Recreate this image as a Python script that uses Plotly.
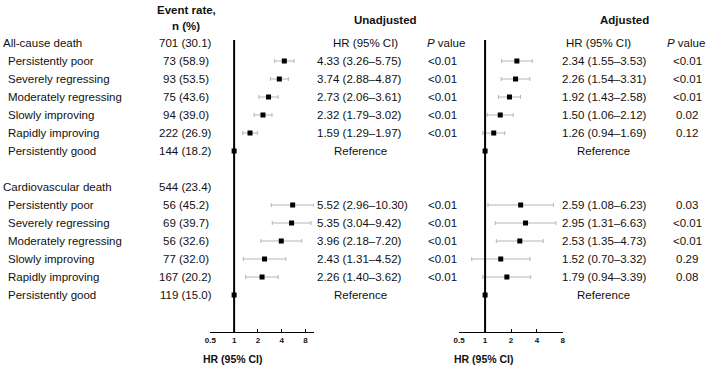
import plotly.graph_objects as go
import math

# ---------------- data ----------------
sections = ["All-cause death", "Cardiovascular death"]
section_events = ["701 (30.1)", "544 (23.4)"]
groups = ["Persistently poor", "Severely regressing", "Moderately regressing",
          "Slowly improving", "Rapidly improving", "Persistently good"]

all_n = [73, 93, 75, 94, 222, 144]
all_pct = [58.9, 53.5, 43.6, 39.0, 26.9, 18.2]
cv_n = [56, 69, 56, 77, 167, 119]
cv_pct = [45.2, 39.7, 32.6, 32.0, 20.2, 15.0]

# Unadjusted, all-cause
ua_hr = [4.33, 3.74, 2.73, 2.32, 1.59]
ua_lo = [3.26, 2.88, 2.06, 1.79, 1.29]
ua_hi = [5.75, 4.87, 3.61, 3.02, 1.97]
ua_p = ["<0.01", "<0.01", "<0.01", "<0.01", "<0.01"]
# Adjusted, all-cause
aa_hr = [2.34, 2.26, 1.92, 1.50, 1.26]
aa_lo = [1.55, 1.54, 1.43, 1.06, 0.94]
aa_hi = [3.53, 3.31, 2.58, 2.12, 1.69]
aa_p = ["<0.01", "<0.01", "<0.01", "0.02", "0.12"]
# Unadjusted, cardiovascular
uc_hr = [5.52, 5.35, 3.96, 2.43, 2.26]
uc_lo = [2.96, 3.04, 2.18, 1.31, 1.40]
uc_hi = [10.30, 9.42, 7.20, 4.52, 3.62]
uc_p = ["<0.01", "<0.01", "<0.01", "<0.01", "<0.01"]
# Adjusted, cardiovascular
ac_hr = [2.59, 2.95, 2.53, 1.52, 1.79]
ac_lo = [1.08, 1.31, 1.35, 0.70, 0.94]
ac_hi = [6.23, 6.63, 4.73, 3.32, 3.39]
ac_p = ["0.03", "<0.01", "<0.01", "0.29", "0.08"]

ref_hr = 1.0
tick_vals = [0.5, 1, 2, 4, 8]
tick_text = ["0.5", "1", "2", "4", "8"]

# ---------------- layout helpers ----------------
W, H = 709, 368
FONT = "Liberation Sans, Arial, sans-serif"
TXT = "#111111"
ROW0_PX, ROW_STEP, AXIS_PX = 43, 18, 332

def px(x):
    return x / W

y_top = -ROW0_PX / ROW_STEP
y_bot = (AXIS_PX - ROW0_PX) / ROW_STEP

sec_rows = [0, 8]
sub_rows = [[1, 2, 3, 4, 5, 6], [9, 10, 11, 12, 13, 14]]

fig = go.Figure()

def add_forest(hr, lo, hi, rows, xa):
    fig.add_trace(go.Scatter(
        x=hr, y=rows, xaxis=xa, yaxis="y", mode="markers",
        marker=dict(symbol="square", size=5, color="black", line=dict(width=0)),
        error_x=dict(type="data", symmetric=False,
                     array=[h - m for h, m in zip(hi, hr)],
                     arrayminus=[m - l for m, l in zip(hr, lo)],
                     color="#b5b5b5", thickness=1, width=2),
        showlegend=False, hoverinfo="skip"))

add_forest(ua_hr, ua_lo, ua_hi, sub_rows[0][:5], "x")
add_forest(uc_hr, uc_lo, uc_hi, sub_rows[1][:5], "x")
add_forest(aa_hr, aa_lo, aa_hi, sub_rows[0][:5], "x2")
add_forest(ac_hr, ac_lo, ac_hi, sub_rows[1][:5], "x2")
for xa in ["x", "x2"]:
    fig.add_trace(go.Scatter(
        x=[ref_hr, ref_hr], y=[sub_rows[0][5], sub_rows[1][5]], xaxis=xa, yaxis="y",
        mode="markers",
        marker=dict(symbol="square", size=5, color="black", line=dict(width=0)),
        showlegend=False, hoverinfo="skip"))

# reference lines at HR = 1
for xr in ["x", "x2"]:
    fig.add_shape(type="line", xref=xr, yref="y", x0=ref_hr, x1=ref_hr,
                  y0=(40 - ROW0_PX) / ROW_STEP, y1=y_bot,
                  line=dict(color="black", width=2))

ann = []
def text(x_px, y, s, anchor="left", size=11.5, bold=False, yref="y"):
    ann.append(dict(x=px(x_px), y=y, xref="paper", yref=yref, text=s,
                    showarrow=False, xanchor=anchor, yanchor="middle",
                    font=dict(family=FONT, size=size, color=TXT,
                              weight="bold" if bold else "normal")))

# headers
r_ev1 = (10 - ROW0_PX) / ROW_STEP
r_ev2 = (26 - ROW0_PX) / ROW_STEP
r_tit = (20 - ROW0_PX) / ROW_STEP
text(183, r_ev1, "Event rate,", "center", bold=True)
text(182, r_ev2, "n (%)", "center", bold=True)
text(384, r_tit, "Unadjusted", "center", bold=True)
text(626, r_tit, "Adjusted", "center", bold=True)
text(364, 0, "HR (95% CI)", "center")
text(446, 0, "<i>P</i> value", "center")
text(600, 0, "HR (95% CI)", "center")
text(689, 0, "<i>P</i> value", "center")

ns = [all_n, cv_n]
pcts = [all_pct, cv_pct]
u_sets = [(ua_hr, ua_lo, ua_hi, ua_p), (uc_hr, uc_lo, uc_hi, uc_p)]
a_sets = [(aa_hr, aa_lo, aa_hi, aa_p), (ac_hr, ac_lo, ac_hi, ac_p)]

for s in range(2):
    text(-5, sec_rows[s], sections[s])
    text(182, sec_rows[s], section_events[s], "center")
    for g, row in enumerate(sub_rows[s]):
        text(0, row, groups[g])
        text(182, row, f"{ns[s][g]} ({pcts[s][g]:.1f})", "center")
        if g < 5:
            hr, lo, hi, p = u_sets[s]
            text(313, row, f"{hr[g]:.2f} ({lo[g]:.2f}\u2013{hi[g]:.2f})")
            text(442, row, p[g], "center")
            hr, lo, hi, p = a_sets[s]
            text(561, row, f"{hr[g]:.2f} ({lo[g]:.2f}\u2013{hi[g]:.2f})")
            text(690, row, p[g], "center")
        else:
            text(359, row, "Reference", "center")
            text(605, row, "Reference", "center")

# x-axis titles
text(230, (H - 359) / H, "HR (95% CI)", "center", size=10.5, bold=True, yref="paper")
text(484, (H - 359) / H, "HR (95% CI)", "center", size=10.5, bold=True, yref="paper")

axis_common = dict(type="log", showgrid=False, zeroline=False, showline=True,
                   linecolor="black", linewidth=1, ticks="inside", ticklen=3,
                   tickcolor="black", tickwidth=1, tickvals=tick_vals, ticktext=tick_text,
                   tickfont=dict(family=FONT, size=8, color=TXT, weight="bold"),
                   anchor="y", fixedrange=True)

fig.update_layout(
    width=W, height=H, margin=dict(l=0, r=0, t=0, b=0),
    paper_bgcolor="white", plot_bgcolor="white",
    xaxis=dict(domain=[px(207), px(312)],
               range=[math.log10(0.5), math.log10(10.3)], **axis_common),
    xaxis2=dict(domain=[px(459), px(564)],
                range=[math.log10(0.5), math.log10(8)], **axis_common),
    yaxis=dict(domain=[(H - AXIS_PX) / H, 1], range=[y_bot, y_top],
               visible=False, fixedrange=True),
    annotations=ann,
    showlegend=False,
)

fig.write_html(
    "out.html",
    config={"displayModeBar": False, "staticPlot": True},
    post_script=("document.documentElement.style.margin='0px';"
                 "document.body.style.margin='0px';"
                 "document.body.style.padding='0px';"
                 "document.documentElement.style.overflow='hidden';"
                 "document.body.style.overflow='hidden';"
                 "var d=document.getElementById('{plot_id}');"
                 "d.style.position='absolute';d.style.left='0px';d.style.top='0px';"))
